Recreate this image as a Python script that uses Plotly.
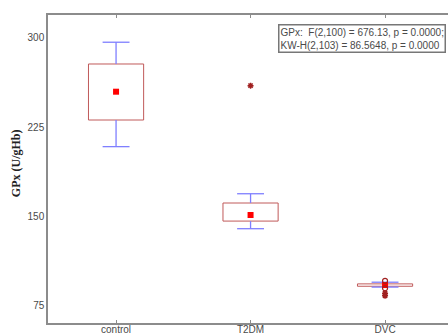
import plotly.graph_objects as go

# Group summary statistics for GPx (U/gHb)
groups = ["control", "T2DM", "DVC"]
means = [254.8, 151.1, 92.2]
box_low = [231.0, 146.0, 91.2]
box_high = [278.1, 161.2, 93.2]
whisk_low = [208.6, 139.6, 90.5]
whisk_high = [296.4, 169.0, 94.6]

# Individual outliers (circles) and extremes (asterisks) per group index
outlier_group = [2, 2]
outlier_vals = [95.8, 89.5]
extreme_group = [1, 2, 2]
extreme_vals = [259.9, 85.4, 83.2]

stats_text = "GPx:  F(2,100) = 676.13, p = 0.0000;<br>KW-H(2,103) = 86.5648, p = 0.0000"

xpos = list(range(len(groups)))
box_w = 0.41
cap_half = 0.1

fig = go.Figure()

# Boxes: hollow bars spanning the box range
fig.add_trace(go.Bar(
    x=xpos, base=box_low,
    y=[h - l for h, l in zip(box_high, box_low)],
    width=box_w, marker=dict(color="rgba(0,0,0,0)", line=dict(color="#c05a5a", width=1)),
    hoverinfo="skip", showlegend=False,
))

# Blue whiskers with end caps
wx, wy = [], []
for i in xpos:
    for edge, tip in ((box_high[i], whisk_high[i]), (box_low[i], whisk_low[i])):
        wx += [i, i, None, i - cap_half, i + cap_half, None]
        wy += [edge, tip, None, tip, tip, None]
fig.add_trace(go.Scatter(
    x=wx, y=wy, mode="lines",
    line=dict(color="#7f7fff", width=1.3),
    hoverinfo="skip", showlegend=False,
))

# Mean markers
fig.add_trace(go.Scatter(
    x=xpos, y=means, mode="markers",
    marker=dict(symbol="square", size=6, color="#ff0000"),
    showlegend=False,
))

# Outliers and extremes
fig.add_trace(go.Scatter(
    x=outlier_group, y=outlier_vals, mode="markers",
    marker=dict(symbol="circle-open", size=5, color="#a02020", line=dict(width=1.2)),
    showlegend=False,
))
fig.add_trace(go.Scatter(
    x=extreme_group, y=extreme_vals, mode="markers",
    marker=dict(symbol="asterisk-open", size=5, color="#a02020", line=dict(width=1.5)),
    showlegend=False,
))

fig.update_layout(
    width=448, height=336,
    margin=dict(l=48, r=0, t=15, b=13),
    plot_bgcolor="white", paper_bgcolor="white",
    font=dict(family="Liberation Sans, Arial, sans-serif", size=10, color="#4a4a4a"),
    xaxis=dict(
        range=[-0.506, 2.468], tickvals=xpos, ticktext=groups,
        showgrid=False, zeroline=False, automargin=False,
        showline=True, linecolor="#8c8c8c", linewidth=1.5, mirror="ticks",
        ticks="inside", ticklen=3, tickcolor="#8c8c8c", ticklabelstandoff=-4,
    ),
    yaxis=dict(
        range=[60.3, 319.3], tickvals=[75, 150, 225, 300],
        showgrid=False, zeroline=False, automargin=False,
        showline=True, linecolor="#8c8c8c", linewidth=1.5, mirror=False,
        ticks="",
    ),
    annotations=[
        dict(
            text="<b>GPx (U/gHb)</b>", textangle=-90,
            xref="paper", yref="paper", x=-0.08, y=0.519,
            xanchor="center", yanchor="middle", showarrow=False,
            font=dict(family="Liberation Serif, Times New Roman, serif", size=12, color="#222222"),
        ),
        dict(
            text=stats_text,
            xref="paper", yref="paper", x=0.575, y=0.971,
            xanchor="left", yanchor="top", showarrow=False, align="left",
            bordercolor="#777777", borderwidth=1.5, borderpad=1, bgcolor="white",
            font=dict(size=10, color="#4a4a4a"),
        ),
    ],
)

fig.write_html("out.html")
